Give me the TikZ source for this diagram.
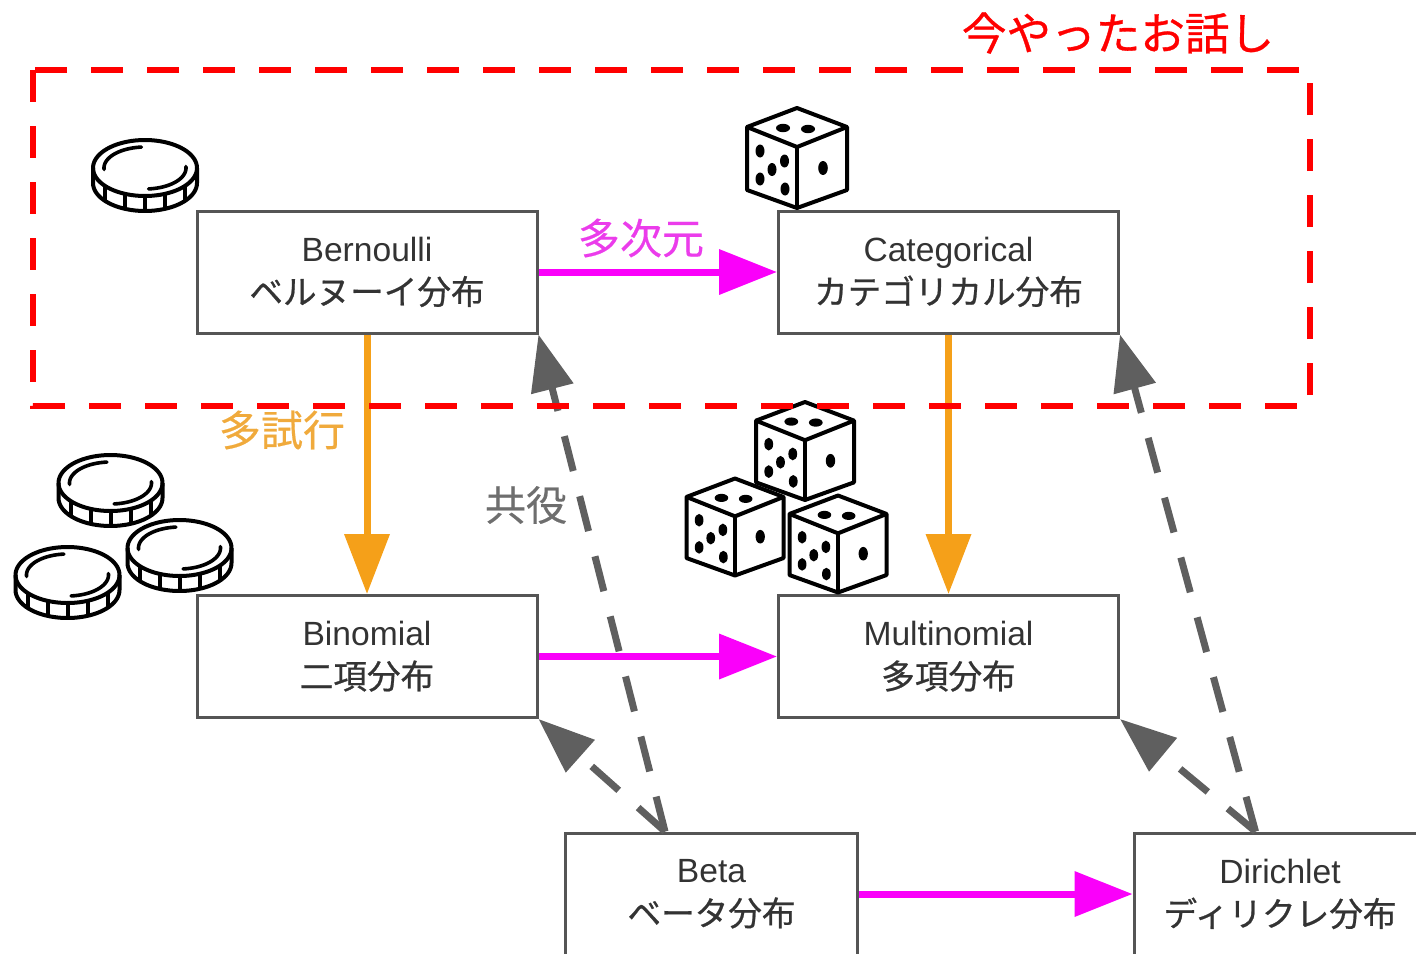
\documentclass[tikz,border=0pt]{standalone}
\usepackage{fontspec}
\setmainfont{Liberation Sans}
\newfontfamily\jp[FakeBold=0.7]{Noto Sans CJK JP}
\newfontfamily\jplabel[FakeBold=0.4]{Noto Sans CJK JP}
\usetikzlibrary{arrows.meta,calc}

\definecolor{boxgray}{RGB}{85,85,85}
\definecolor{textgray}{RGB}{51,51,51}
\definecolor{mag}{RGB}{250,0,250}
\definecolor{maglbl}{RGB}{235,60,235}
\definecolor{orangearrow}{RGB}{245,160,25}
\definecolor{orangelbl}{RGB}{240,170,60}
\definecolor{conjgray}{RGB}{95,95,95}
\definecolor{conjlbl}{RGB}{110,110,110}
\definecolor{hotred}{RGB}{255,0,0}

\tikzset{
  distbox/.style={draw=boxgray, line width=1.5pt, fill=white,
    minimum width=170pt, minimum height=61pt, inner sep=0pt,
    align=center, text=textgray, font=\fontsize{16.8}{21.5}\selectfont},
  priorbox/.style={distbox, minimum width=146pt},
  dimarrow/.style={draw=mag, line width=3.5pt,
    -{Triangle[length=29pt,width=22pt]}},
  trialarrow/.style={draw=orangearrow, line width=3.5pt,
    -{Triangle[length=30pt,width=22pt]}},
  conjarrow/.style={draw=conjgray, line width=3.5pt,
    dash pattern=on 18pt off 13pt,
    -{Triangle[length=28pt,width=21pt]}},
  edgelabel/.style={font=\fontsize{21}{25}\selectfont\jplabel, inner sep=0pt},
  coin/.pic={
    \begin{scope}[line width=2pt, line join=round]
      \fill[white] (-52,0) -- plot[domain=180:0,samples=40] ({52*cos(\x)},{15+28*sin(\x)})
        -- (52,0) -- plot[domain=0:-180,samples=40] ({52*cos(\x)},{28*sin(\x)}) -- cycle;
      \draw plot[domain=0:360,samples=80] ({52*cos(\x)},{28*sin(\x)}) -- cycle;
      \draw (-52,0) -- plot[domain=180:0,samples=40] ({52*cos(\x)},{15+28*sin(\x)}) -- (52,0);
      \foreach \t in {-40,-20,0,20,40}
        \draw (\t,{28*sqrt(1-(\t/52)^2)}) -- (\t,{15+28*sqrt(1-(\t/52)^2)});
      \draw[line width=1.8pt, line cap=round]
        plot[domain=176:265,samples=30] ({41*cos(\x)},{21*sin(\x)});
      \draw[line width=1.8pt, line cap=round]
        plot[domain=-4:85,samples=30] ({41*cos(\x)},{21*sin(\x)});
    \end{scope}
  },
  die/.pic={
    \begin{scope}[line width=2pt, line join=round]
      \filldraw[fill=white] (0,-50) -- (50,-31) -- (50,32) -- (0,50) -- (-50,32) -- (-50,-31) -- cycle;
      \draw (-50,-31) -- (0,-11) -- (50,-31);
      \draw (0,-11) -- (0,50);
      % two on top
      \fill (-14,-30) ellipse [x radius=7, y radius=4.2];
      \fill (11,-29) ellipse [x radius=7, y radius=4.2];
      % five on the left face
      \fill (-37,-7) ellipse [x radius=4.5, y radius=6.5];
      \fill (-12.5,3) ellipse [x radius=4.5, y radius=6.5];
      \fill (-25,11.5) ellipse [x radius=4.5, y radius=6.5];
      \fill (-37,21) ellipse [x radius=4.5, y radius=6.5];
      \fill (-12,31) ellipse [x radius=4.5, y radius=6.5];
      % one on the right face
      \fill (26,10) ellipse [x radius=4.8, y radius=7];
    \end{scope}
  }
}

\begin{document}
\begin{tikzpicture}[x=0.5pt, y=-0.5pt]
  \useasboundingbox (0,0) rectangle (1416,953);

  % distributions
  \node[distbox] (bern) at (367,272) {Bernoulli\\{\jp ベルヌーイ分布}};
  \node[distbox] (cat) at (948.5,272) {Categorical\\{\jp カテゴリカル分布}};
  \node[distbox] (bin) at (367,656.5) {Binomial\\{\jp 二項分布}};
  \node[distbox] (mult) at (948.5,656.5) {Multinomial\\{\jp 多項分布}};
  \node[priorbox] (beta) at (711.5,894) {Beta\\{\jp ベータ分布}};
  \node[priorbox] (dir) at (1280,894) {Dirichlet\\{\jp ディリクレ分布}};

  % more dimensions
  \draw[dimarrow] (bern) -- (cat);
  \draw[dimarrow] (bin) -- (mult);
  \draw[dimarrow] (beta) -- (dir);
  \node[edgelabel, text=maglbl] (ldim) at (641,238) {多次元};

  % more trials
  \draw[trialarrow] (bern) -- (bin);
  \draw[trialarrow] (cat) -- (mult);
  \node[edgelabel, text=orangelbl] (ltrial) at (282,430) {多試行};

  % conjugate priors
  \coordinate (betatop) at ($(beta.north west)+(101,0)$);
  \coordinate (dirtop) at ($(dir.north west)+(123,0)$);
  \draw[conjarrow] (betatop) -- (bern.south east);
  \draw[conjarrow] (betatop) -- (bin.south east);
  \draw[conjarrow] (dirtop) -- (cat.south east);
  \draw[conjarrow] (dirtop) -- (mult.south east);
  \node[edgelabel, text=conjlbl, font=\fontsize{20.5}{25}\selectfont\jplabel] (lconj) at (526,505) {共役};

  % coins
  \pic at (145,168) {coin};
  \pic at (110.5,483) {coin};
  \pic at (179.5,548) {coin};
  \pic at (67.5,575) {coin};

  % dice
  \pic at (797,158) {die};
  \pic[scale=0.98] at (805,451) {die};
  \pic[scale=0.97] at (735,527) {die};
  \pic[scale=0.97] at (838,544) {die};

  % highlighted region
  \draw[hotred, line width=3pt, dash pattern=on 16pt off 12pt] (33,70) rectangle (1310,406);
  \node[font=\fontsize{22.3}{26}\selectfont\jp, text=hotred, inner sep=0pt] (now) at (1118,33) {今やったお話し};
\end{tikzpicture}
\end{document}
